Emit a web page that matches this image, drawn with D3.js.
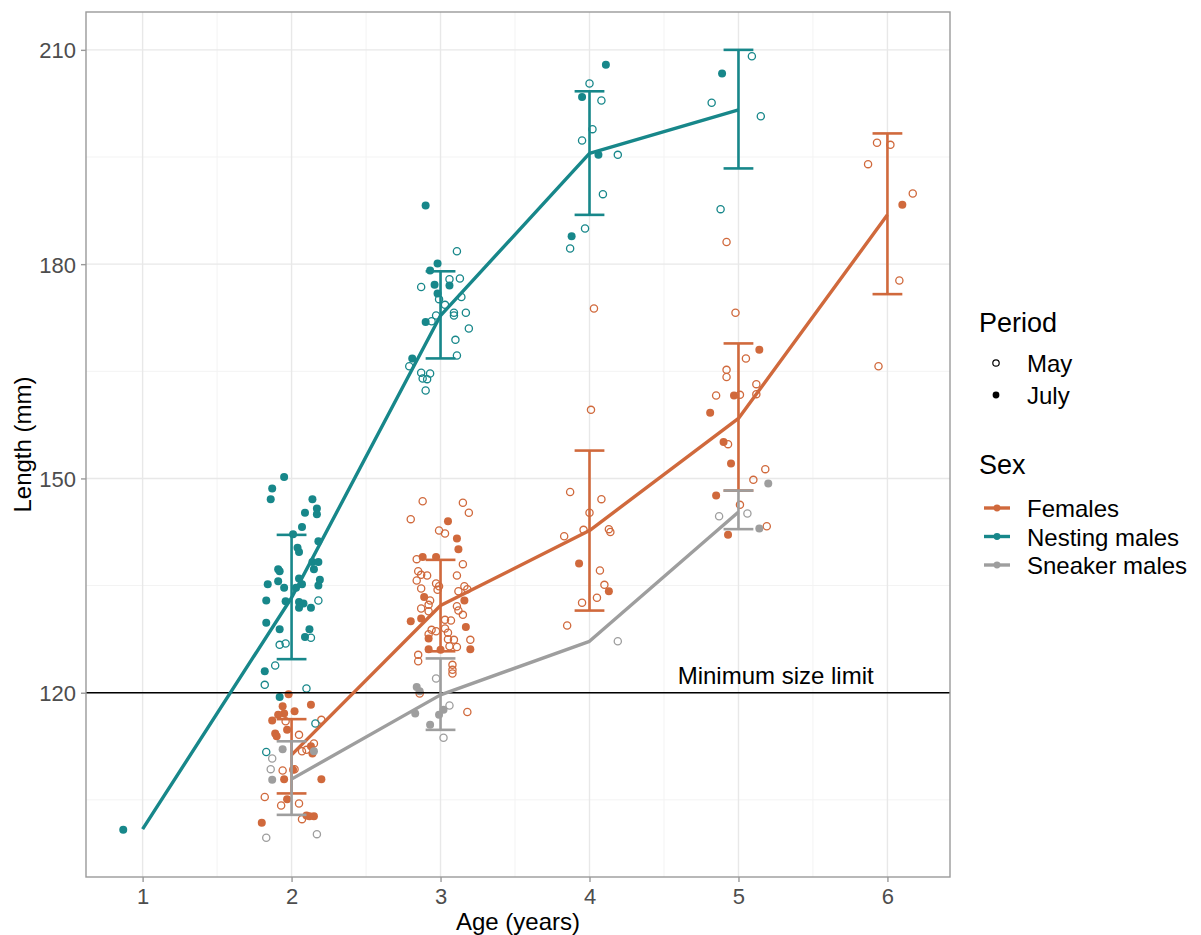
<!DOCTYPE html>
<html>
<head>
<meta charset="utf-8">
<script src="https://cdn.jsdelivr.net/npm/d3@7"></script>
<style>
  body { margin: 0; background: #fff; }
  text { font-family: "Liberation Sans", Arial, sans-serif; }
</style>
</head>
<body>
<div id="plot-container"></div>
<script>
// individual fish: [age (jittered), length mm]
var femaleMay = [
  [1.96,116.0],[2.05,114.1],[2.15,112.9],[2.07,111.8],[2.10,112.0],[1.94,109.1],[2.02,109.3],[1.82,105.4],[1.93,104.2],[2.05,104.5],[2.07,102.3],[2.20,116.2],
  [2.88,146.8],[3.15,146.6],[2.80,144.3],[3.19,145.2],[2.99,142.7],[3.03,142.3],[2.84,138.7],[3.15,138.0],[2.85,137.0],[2.87,136.5],[2.91,136.4],[3.11,136.4],
  [2.84,135.7],[2.97,135.3],[2.99,134.9],[2.98,134.4],[2.87,134.6],[3.12,134.2],[3.16,134.9],[3.18,134.5],[2.93,132.9],[2.92,132.3],[2.87,131.8],[2.92,131.4],
  [3.11,132.1],[3.12,131.5],[3.15,130.9],[3.03,130.2],[3.07,130.1],[2.94,128.8],[2.97,128.6],[2.92,128.2],[3.03,129.0],[3.05,128.4],[3.05,127.5],[3.09,127.4],
  [3.20,127.4],[3.06,126.5],[3.11,126.4],[2.85,125.3],[2.85,124.4],[3.08,123.9],[3.08,123.2],[3.08,122.7],[2.86,119.9],[3.18,117.3],
  [4.03,173.8],[4.01,159.6],[3.87,148.1],[4.08,147.1],[4.00,145.2],[3.96,142.8],[3.83,141.9],[4.13,142.9],[4.14,142.5],[4.07,137.1],[4.10,135.1],[4.05,133.3],
  [3.95,132.6],[3.85,129.4],
  [4.92,183.1],[4.98,173.2],[5.05,166.8],[4.92,165.2],[4.92,164.2],[5.12,163.2],[4.85,161.6],[5.01,161.7],[5.12,161.8],[4.93,154.8],[5.18,151.3],[5.10,149.8],
  [5.01,146.3],[5.19,143.3],
  [5.93,197.0],[6.02,196.7],[5.87,194.0],[6.17,189.9],[6.08,177.7],[5.94,165.7]
];
var femaleJuly = [
  [1.98,119.8],[2.13,118.3],[1.94,118.1],[1.95,117.1],[2.02,117.4],[1.87,116.1],[1.91,116.9],[1.97,114.8],[1.89,114.3],[1.90,113.9],[2.13,112.5],[2.14,111.5],
  [2.01,109.2],[1.95,107.9],[2.20,107.9],[1.97,105.1],[2.10,102.8],[2.12,102.7],[2.15,102.7],[1.80,101.8],
  [3.05,144.0],[3.11,141.6],[3.12,140.1],[2.88,139.0],[2.97,139.0],[2.89,133.4],[3.16,132.9],[2.80,130.0],[2.87,130.4],[3.17,129.2],[2.92,127.6],[2.92,126.1],
  [3.00,126.0],[3.20,126.1],
  [3.93,138.1],[4.13,134.2],
  [5.14,168.0],[4.97,161.6],[4.81,159.2],[4.90,155.1],[4.95,152.1],[4.85,147.6],[4.93,142.1],
  [6.10,188.3]
];
var nestMay = [
  [2.18,132.9],[2.13,127.7],[1.92,126.7],[1.96,126.9],[1.89,123.8],[1.82,121.1],[2.10,120.6],[1.83,111.7],[2.16,115.7],
  [3.11,181.8],[3.06,177.9],[3.13,178.0],[2.87,176.8],[2.99,175.1],[3.14,175.4],[3.03,174.3],[3.09,173.2],[3.09,172.8],[3.17,173.2],[2.97,172.8],[2.94,172.0],
  [3.19,171.0],[3.10,169.4],[3.11,167.2],[2.79,165.7],[2.87,164.8],[2.93,164.7],[2.88,164.0],[2.91,163.9],[2.90,162.3],
  [4.00,205.3],[4.08,202.9],[4.02,198.9],[3.95,197.3],[4.19,195.3],[4.09,189.8],[3.97,185.0],[3.87,182.2],
  [5.09,209.1],[4.82,202.6],[5.15,200.7],[4.88,187.7]
];
var nestJuly = [
  [0.87,100.8],
  [1.95,150.2],[1.87,148.6],[1.86,147.1],[2.14,147.1],[2.09,145.2],[2.17,145.8],[2.17,145.0],[2.07,143.2],[2.01,142.2],[2.18,141.2],[2.04,140.3],[2.05,139.7],
  [2.14,138.3],[2.18,138.3],[1.91,137.3],[1.92,137.0],[2.15,137.3],[2.05,136.0],[1.91,135.6],[1.84,135.2],[2.19,135.8],[2.18,135.0],[2.07,135.2],[1.95,134.7],
  [2.03,134.7],[1.83,132.9],[1.96,132.8],[2.05,132.7],[2.08,132.5],[2.05,131.9],[2.13,131.9],[1.83,129.8],[1.92,128.9],[2.12,128.9],[2.09,127.8],[1.82,123.0],
  [1.92,119.4],
  [2.90,188.2],[2.98,180.1],[2.93,179.1],[2.96,177.1],[3.06,177.0],[2.98,175.9],[2.90,171.9],[2.81,166.8],
  [4.11,207.9],[3.95,203.4],[4.06,195.3],[3.88,183.9],
  [4.89,206.7]
];
var sneakMay = [
  [1.87,110.8],[1.86,109.3],[1.83,99.7],[2.17,100.2],
  [3.06,118.2],[3.02,113.7],[2.97,122.0],
  [4.19,127.2],
  [4.87,144.7],[5.06,145.1]
];
var sneakJuly = [
  [1.94,112.1],[1.87,107.8],[2.15,111.8],
  [2.84,120.8],[2.86,120.2],[2.83,117.1],[2.93,115.5],[2.99,116.9],[3.02,117.6],
  [5.20,149.3],[5.14,143.0]
];

// group means with error bars (null = no bar)
var femaleAges = [2, 3, 4, 5, 6];
var femaleMean = [111.3, 132.2, 142.7, 158.4, 186.9];
var femaleLow  = [105.9, 125.8, 131.5, 148.3, 175.8];
var femaleHigh = [116.3, 138.6, 153.9, 168.9, 198.3];

var nestAges = [1, 2, 3, 4, 5];
var nestMean = [100.9, 133.3, 172.8, 195.5, 201.6];
var nestLow  = [null, 124.7, 166.8, 186.9, 193.4];
var nestHigh = [null, 142.1, 179.0, 204.2, 210.0];

var sneakAges = [2, 3, 4, 5];
var sneakMean = [107.9, 119.7, 127.2, 145.3];
var sneakLow  = [102.9, 114.8, null, 142.9];
var sneakHigh = [113.2, 124.8, null, 148.3];

var xTicks = [1, 2, 3, 4, 5, 6];
var yTicks = [120, 150, 180, 210];
var sizeLimit = 120;

var colors = {Females: "#d0693c", "Nesting males": "#17878a", "Sneaker males": "#9e9e9e"};

var series = [
  {name: "Females", may: femaleMay, july: femaleJuly, ages: femaleAges, mean: femaleMean, low: femaleLow, high: femaleHigh},
  {name: "Nesting males", may: nestMay, july: nestJuly, ages: nestAges, mean: nestMean, low: nestLow, high: nestHigh},
  {name: "Sneaker males", may: sneakMay, july: sneakJuly, ages: sneakAges, mean: sneakMean, low: sneakLow, high: sneakHigh}
];

var W = 1201, H = 935;
var panel = {left: 86, right: 950, top: 12, bottom: 877};

var svg = d3.select("#plot-container").append("svg")
  .attr("width", W).attr("height", H);

var x = d3.scaleLinear().domain([0.62, 6.42]).range([panel.left, panel.right]);
var y = d3.scaleLinear().domain([94.2, 215.3]).range([panel.bottom, panel.top]);

// grid
var grid = svg.append("g");
var minorX = [1.5, 2.5, 3.5, 4.5, 5.5], minorY = [105, 135, 165, 195];
grid.selectAll(".mx").data(minorX).enter().append("line")
  .attr("x1", x).attr("x2", x).attr("y1", panel.top).attr("y2", panel.bottom)
  .attr("stroke", "#f3f3f3").attr("stroke-width", 1);
grid.selectAll(".my").data(minorY).enter().append("line")
  .attr("y1", y).attr("y2", y).attr("x1", panel.left).attr("x2", panel.right)
  .attr("stroke", "#f3f3f3").attr("stroke-width", 1);
grid.selectAll(".gx").data(xTicks).enter().append("line")
  .attr("x1", x).attr("x2", x).attr("y1", panel.top).attr("y2", panel.bottom)
  .attr("stroke", "#e8e8e8").attr("stroke-width", 1.4);
grid.selectAll(".gy").data(yTicks).enter().append("line")
  .attr("y1", y).attr("y2", y).attr("x1", panel.left).attr("x2", panel.right)
  .attr("stroke", "#e8e8e8").attr("stroke-width", 1.4);

// points
var pts = svg.append("g");
series.forEach(function(s) {
  pts.selectAll(null).data(s.may).enter().append("circle")
    .attr("cx", function(d) { return x(d[0]); })
    .attr("cy", function(d) { return y(d[1]); })
    .attr("r", 3.6)
    .attr("fill", "none")
    .attr("stroke", colors[s.name])
    .attr("stroke-width", 1.3);
  pts.selectAll(null).data(s.july).enter().append("circle")
    .attr("cx", function(d) { return x(d[0]); })
    .attr("cy", function(d) { return y(d[1]); })
    .attr("r", 4)
    .attr("fill", colors[s.name]);
});

// minimum size limit
svg.append("line")
  .attr("x1", panel.left).attr("x2", panel.right)
  .attr("y1", y(sizeLimit)).attr("y2", y(sizeLimit))
  .attr("stroke", "#000").attr("stroke-width", 1.6);
svg.append("text")
  .attr("x", x(5.25)).attr("y", y(sizeLimit) - 9)
  .attr("text-anchor", "middle")
  .attr("font-size", 24)
  .text("Minimum size limit");

// mean lines and error bars
var line = d3.line().x(function(d) { return x(d.age); }).y(function(d) { return y(d.mean); });
var capHalf = x(1.1) - x(1);
series.forEach(function(s) {
  var rows = s.ages.map(function(a, i) { return {age: a, mean: s.mean[i], low: s.low[i], high: s.high[i]}; });
  var g = svg.append("g").attr("stroke", colors[s.name]).attr("fill", "none");
  g.append("path").attr("d", line(rows)).attr("stroke-width", 3.4).attr("stroke-linejoin", "round");
  var bars = rows.filter(function(d) { return d.low !== null; });
  g.selectAll(".v").data(bars).enter().append("line")
    .attr("x1", function(d) { return x(d.age); }).attr("x2", function(d) { return x(d.age); })
    .attr("y1", function(d) { return y(d.low); }).attr("y2", function(d) { return y(d.high); })
    .attr("stroke-width", 2.6);
  ["low", "high"].forEach(function(k) {
    g.selectAll(".c" + k).data(bars).enter().append("line")
      .attr("x1", function(d) { return x(d.age) - capHalf; })
      .attr("x2", function(d) { return x(d.age) + capHalf; })
      .attr("y1", function(d) { return y(d[k]); }).attr("y2", function(d) { return y(d[k]); })
      .attr("stroke-width", 2.6);
  });
});

// panel border
svg.append("rect")
  .attr("x", panel.left).attr("y", panel.top)
  .attr("width", panel.right - panel.left).attr("height", panel.bottom - panel.top)
  .attr("fill", "none").attr("stroke", "#9a9a9a").attr("stroke-width", 1.4);

// axes
var xAxis = svg.append("g")
  .attr("transform", "translate(0," + panel.bottom + ")")
  .call(d3.axisBottom(x).tickValues(xTicks).tickSize(5).tickPadding(6).tickFormat(d3.format("d")));
var yAxis = svg.append("g")
  .attr("transform", "translate(" + panel.left + ",0)")
  .call(d3.axisLeft(y).tickValues(yTicks).tickSize(5).tickPadding(5));
[xAxis, yAxis].forEach(function(a) {
  a.select(".domain").remove();
  a.selectAll(".tick line").attr("stroke", "#9a9a9a").attr("stroke-width", 1.4);
  a.selectAll(".tick text").attr("fill", "#4d4d4d").attr("font-size", 22)
    .attr("font-family", "Liberation Sans, Arial, sans-serif");
});
yAxis.selectAll(".tick text").attr("dy", "0.36em");

svg.append("text")
  .attr("x", (panel.left + panel.right) / 2).attr("y", 930)
  .attr("text-anchor", "middle").attr("font-size", 24)
  .text("Age (years)");
svg.append("text")
  .attr("transform", "translate(31," + (panel.top + panel.bottom) / 2 + ") rotate(-90)")
  .attr("text-anchor", "middle").attr("font-size", 24)
  .text("Length (mm)");

// legends
var leg = svg.append("g");
leg.append("text").attr("x", 979).attr("y", 332).attr("font-size", 27).text("Period");
var periods = [{label: "May", open: true, cy: 363}, {label: "July", open: false, cy: 395}];
periods.forEach(function(p) {
  leg.append("circle").attr("cx", 996).attr("cy", p.cy)
    .attr("r", p.open ? 3.2 : 3.4)
    .attr("fill", p.open ? "none" : "#000")
    .attr("stroke", p.open ? "#000" : "none").attr("stroke-width", 1.2);
  leg.append("text").attr("x", 1027).attr("y", p.cy + 9).attr("font-size", 24).text(p.label);
});
leg.append("text").attr("x", 979).attr("y", 474).attr("font-size", 27).text("Sex");
series.forEach(function(s, i) {
  var cy = 508 + i * 28.5;
  leg.append("line").attr("x1", 984).attr("x2", 1010).attr("y1", cy).attr("y2", cy)
    .attr("stroke", colors[s.name]).attr("stroke-width", 3.4);
  leg.append("circle").attr("cx", 997).attr("cy", cy).attr("r", 3.4).attr("fill", colors[s.name]);
  leg.append("text").attr("x", 1027).attr("y", cy + 9).attr("font-size", 24).text(s.name);
});
</script>
</body>
</html>
